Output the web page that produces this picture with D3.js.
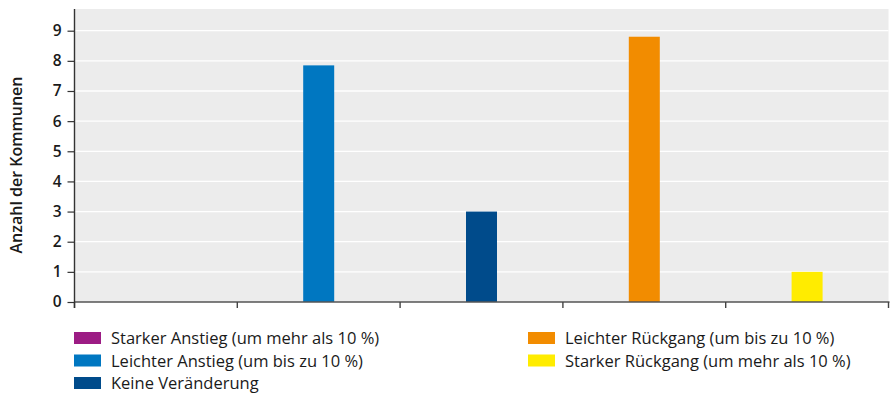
<!DOCTYPE html>
<html><head><meta charset="utf-8">
<script src="https://cdn.jsdelivr.net/npm/d3@7"></script>
<style>body{margin:0;background:#fff}svg{display:block}text{font-family:"Open Sans",sans-serif}</style>
</head><body><svg id="c" width="890" height="393"></svg>
<script>
const categories = ["Starker Anstieg (um mehr als 10 %)","Leichter Anstieg (um bis zu 10 %)","Keine Veränderung","Leichter Rückgang (um bis zu 10 %)","Starker Rückgang (um mehr als 10 %)"];
const values = [0, 7.85, 3, 8.8, 1];
const colors = ["#9C1C84","#0077C1","#004B8B","#F28C00","#FFEC00"];
const yTicks = [0,1,2,3,4,5,6,7,8,9];
const yTitle = "Anzahl der Kommunen";

const svg = d3.select("#c");
const L = 74.5, R = 888.5, T = 9, B = 302;
const x = d3.scaleBand().domain(categories).range([L, R]).paddingInner(0).paddingOuter(0);
const y = d3.scaleLinear().domain([0, 9.72]).range([B, T]);

svg.append("rect").attr("x", L).attr("y", T).attr("width", R - L).attr("height", B - T).attr("fill", "#ECECEC");

svg.append("g").selectAll("line").data(yTicks.filter(d => d > 0)).join("line")
  .attr("x1", L).attr("x2", R).attr("y1", d => y(d)).attr("y2", d => y(d))
  .attr("stroke", "#fff").attr("stroke-width", 1.3);

const bw = 31;
svg.append("g").selectAll("rect").data(categories).join("rect")
  .attr("x", d => x(d) + x.bandwidth() / 2 - bw / 2)
  .attr("width", bw)
  .attr("y", (d, i) => y(values[i]))
  .attr("height", (d, i) => B - y(values[i]))
  .attr("fill", (d, i) => colors[i]);

// x axis
const xAxis = svg.append("g").attr("transform", `translate(0,${B})`);
xAxis.append("line").attr("x1", L).attr("x2", R + 1).attr("stroke", "#555").attr("stroke-width", 1.6);
const bounds = categories.map(d => x(d)).concat([R]);
xAxis.selectAll("line.t").data(bounds).join("line").attr("class", "t")
  .attr("x1", d => d).attr("x2", d => d).attr("y1", 0).attr("y2", 6)
  .attr("stroke", "#444").attr("stroke-width", 1.4);

// y axis
const yAxis = svg.append("g").attr("transform", `translate(${L},0)`)
  .call(d3.axisLeft(y).tickValues(yTicks).tickSize(7).tickPadding(6).tickFormat(d3.format("d")));
yAxis.select(".domain").remove();
yAxis.append("line").attr("y1", T).attr("y2", B + 6).attr("stroke", "#333").attr("stroke-width", 1.4);
yAxis.selectAll(".tick line").attr("stroke", "#333").attr("stroke-width", 1.2);
yAxis.selectAll(".tick text").attr("fill", "#1a1a1a").style("font-size", "15.5px").style("font-weight", 600)
  .style("font-family", "'Open Sans',sans-serif");

svg.append("text").attr("transform", `translate(22,165) rotate(-90)`).attr("text-anchor", "middle")
  .style("font-size", "16px").style("font-weight", 600).attr("fill", "#1a1a1a").text(yTitle);

// legend
const legPos = [[74,332],[74,354.5],[74,377],[528,332],[528,354.5]];
const lg = svg.append("g").selectAll("g").data(categories).join("g")
  .attr("transform", (d, i) => `translate(${legPos[i][0]},${legPos[i][1]})`);
lg.append("rect").attr("width", 27).attr("height", 12).attr("fill", (d, i) => colors[i]);
lg.append("text").attr("x", 37).attr("y", 12).style("font-size", "16.5px").style("font-weight", 500)
  .attr("fill", "#1a1a1a").text(d => d);
</script></body></html>
